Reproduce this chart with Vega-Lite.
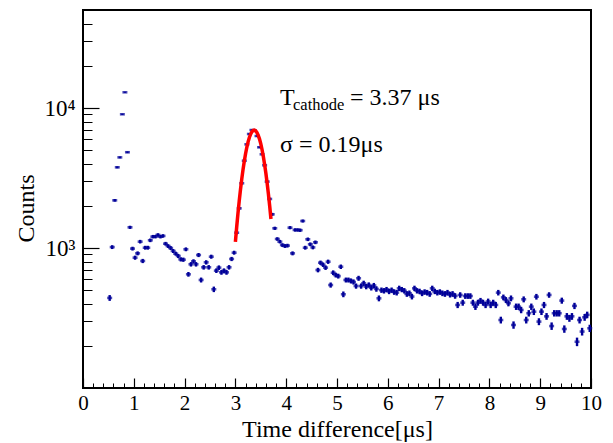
{
"$schema": "https://vega.github.io/schema/vega-lite/v6.json",
"width": 508, "height": 378,
"autosize": "none",
"padding": {"left": 83, "top": 10, "right": 22, "bottom": 55},
"background": "white",
"config": {"view": {"stroke": "black", "strokeWidth": 2}, "font": "Liberation Serif",
 "axis": {"labelFont": "Liberation Serif", "titleFont": "Liberation Serif", "labelColor": "black", "titleColor": "black", "titleFontWeight": "normal", "tickColor": "black", "domain": false, "grid": false}},
"datasets": {
"h": [
{"t":0.525,"c":440,"e":21},{"t":0.575,"c":1015,"e":32},{"t":0.625,"c":2190,"e":47},{"t":0.675,"c":3770,"e":61},{"t":0.725,"c":4440,"e":67},{"t":0.775,"c":9020,"e":95},{"t":0.825,"c":12950,"e":114},{"t":0.875,"c":4830,"e":70},{"t":0.925,"c":1405,"e":37},{"t":0.975,"c":990,"e":31},
{"t":1.025,"c":853,"e":29},{"t":1.075,"c":916,"e":30},{"t":1.125,"c":1110,"e":33},{"t":1.175,"c":808,"e":28},{"t":1.225,"c":1005,"e":32},{"t":1.275,"c":1005,"e":32},{"t":1.325,"c":1135,"e":34},{"t":1.375,"c":1205,"e":35},{"t":1.425,"c":1205,"e":35},{"t":1.475,"c":1240,"e":35},
{"t":1.525,"c":1205,"e":35},{"t":1.575,"c":1220,"e":35},{"t":1.625,"c":1073,"e":33},{"t":1.675,"c":1033,"e":32},{"t":1.725,"c":1000,"e":32},{"t":1.775,"c":952,"e":31},{"t":1.825,"c":911,"e":30},{"t":1.875,"c":877,"e":30},{"t":1.925,"c":830,"e":29},{"t":1.975,"c":825,"e":29},
{"t":2.025,"c":979,"e":31},{"t":2.075,"c":649,"e":25},{"t":2.125,"c":765,"e":28},{"t":2.175,"c":803,"e":28},{"t":2.225,"c":765,"e":28},{"t":2.275,"c":891,"e":30},{"t":2.325,"c":591,"e":24},{"t":2.375,"c":728,"e":27},{"t":2.425,"c":790,"e":28},{"t":2.475,"c":728,"e":27},
{"t":2.525,"c":867,"e":29},{"t":2.575,"c":507,"e":23},{"t":2.625,"c":689,"e":26},{"t":2.675,"c":724,"e":27},{"t":2.725,"c":670,"e":26},{"t":2.775,"c":689,"e":26},{"t":2.825,"c":670,"e":26},{"t":2.875,"c":728,"e":27},{"t":2.925,"c":835,"e":29},{"t":2.975,"c":926,"e":30},
{"t":3.025,"c":1286,"e":36},{"t":3.075,"c":1920,"e":44},{"t":3.125,"c":2900,"e":54},{"t":3.175,"c":4200,"e":65},{"t":3.225,"c":5500,"e":74},{"t":3.275,"c":6520,"e":81},{"t":3.325,"c":6960,"e":83},{"t":3.375,"c":6900,"e":83},{"t":3.425,"c":6310,"e":79},{"t":3.475,"c":5240,"e":72},
{"t":3.525,"c":4670,"e":68},{"t":3.575,"c":3900,"e":62},{"t":3.625,"c":2980,"e":55},{"t":3.675,"c":2240,"e":47},{"t":3.725,"c":1740,"e":42},{"t":3.775,"c":1383,"e":37},{"t":3.825,"c":1160,"e":34},{"t":3.875,"c":1110,"e":33},{"t":3.925,"c":1050,"e":32},{"t":3.975,"c":1033,"e":32},
{"t":4.025,"c":1040,"e":32},{"t":4.075,"c":1397,"e":37},{"t":4.125,"c":916,"e":30},{"t":4.175,"c":1346,"e":37},{"t":4.225,"c":1346,"e":37},{"t":4.275,"c":1340,"e":37},{"t":4.325,"c":1559,"e":39},{"t":4.375,"c":1005,"e":32},{"t":4.425,"c":1154,"e":34},{"t":4.475,"c":1063,"e":33},
{"t":4.525,"c":1010,"e":32},{"t":4.575,"c":1098,"e":33},{"t":4.625,"c":696,"e":26},{"t":4.675,"c":785,"e":28},{"t":4.725,"c":760,"e":28},{"t":4.775,"c":724,"e":27},{"t":4.825,"c":798,"e":28},{"t":4.875,"c":544,"e":23},{"t":4.925,"c":666,"e":26},{"t":4.975,"c":641,"e":25},
{"t":5.025,"c":630,"e":25},{"t":5.075,"c":735,"e":27},{"t":5.125,"c":467,"e":22},{"t":5.175,"c":591,"e":24},{"t":5.225,"c":591,"e":24},{"t":5.275,"c":582,"e":24},{"t":5.325,"c":572,"e":24},{"t":5.375,"c":535,"e":23},{"t":5.425,"c":608,"e":25},{"t":5.475,"c":535,"e":23},
{"t":5.525,"c":560,"e":24},{"t":5.575,"c":530,"e":23},{"t":5.625,"c":545,"e":23},{"t":5.675,"c":520,"e":23},{"t":5.725,"c":540,"e":23},{"t":5.775,"c":510,"e":23},{"t":5.825,"c":437,"e":21},{"t":5.875,"c":500,"e":22},{"t":5.925,"c":495,"e":22},{"t":5.975,"c":505,"e":22},
{"t":6.025,"c":490,"e":22},{"t":6.075,"c":500,"e":22},{"t":6.125,"c":485,"e":22},{"t":6.175,"c":480,"e":22},{"t":6.225,"c":515,"e":23},{"t":6.275,"c":505,"e":22},{"t":6.325,"c":495,"e":22},{"t":6.375,"c":470,"e":22},{"t":6.425,"c":475,"e":22},{"t":6.475,"c":450,"e":21},
{"t":6.525,"c":515,"e":23},{"t":6.575,"c":495,"e":22},{"t":6.625,"c":490,"e":22},{"t":6.675,"c":475,"e":22},{"t":6.725,"c":485,"e":22},{"t":6.775,"c":480,"e":22},{"t":6.825,"c":470,"e":22},{"t":6.875,"c":515,"e":23},{"t":6.925,"c":490,"e":22},{"t":6.975,"c":480,"e":22},
{"t":7.025,"c":485,"e":22},{"t":7.075,"c":475,"e":22},{"t":7.125,"c":470,"e":22},{"t":7.175,"c":480,"e":22},{"t":7.225,"c":465,"e":22},{"t":7.275,"c":470,"e":22},{"t":7.325,"c":455,"e":21},{"t":7.375,"c":392,"e":20},{"t":7.425,"c":462,"e":21},{"t":7.475,"c":407,"e":20},
{"t":7.525,"c":454,"e":21},{"t":7.575,"c":454,"e":21},{"t":7.625,"c":454,"e":21},{"t":7.675,"c":407,"e":20},{"t":7.725,"c":381,"e":20},{"t":7.775,"c":407,"e":20},{"t":7.825,"c":420,"e":20},{"t":7.875,"c":407,"e":20},{"t":7.925,"c":392,"e":20},{"t":7.975,"c":415,"e":20},
{"t":8.025,"c":392,"e":20},{"t":8.075,"c":407,"e":20},{"t":8.125,"c":392,"e":20},{"t":8.175,"c":480,"e":22},{"t":8.225,"c":306,"e":17},{"t":8.275,"c":444,"e":21},{"t":8.325,"c":425,"e":21},{"t":8.375,"c":403,"e":20},{"t":8.425,"c":437,"e":21},{"t":8.475,"c":282,"e":17},
{"t":8.525,"c":381,"e":20},{"t":8.575,"c":381,"e":20},{"t":8.625,"c":361,"e":19},{"t":8.675,"c":430,"e":21},{"t":8.725,"c":306,"e":17},{"t":8.775,"c":342,"e":18},{"t":8.825,"c":381,"e":20},{"t":8.875,"c":351,"e":19},{"t":8.925,"c":449,"e":21},{"t":8.975,"c":298,"e":17},
{"t":9.025,"c":351,"e":19},{"t":9.075,"c":392,"e":20},{"t":9.125,"c":325,"e":18},{"t":9.175,"c":462,"e":21},{"t":9.225,"c":277,"e":17},{"t":9.275,"c":342,"e":18},{"t":9.325,"c":342,"e":18},{"t":9.375,"c":342,"e":18},{"t":9.425,"c":421,"e":21},{"t":9.475,"c":264,"e":16},
{"t":9.525,"c":325,"e":18},{"t":9.575,"c":315,"e":18},{"t":9.625,"c":325,"e":18},{"t":9.675,"c":386,"e":20},{"t":9.725,"c":214,"e":15},{"t":9.775,"c":306,"e":17},{"t":9.825,"c":253,"e":16},{"t":9.875,"c":320,"e":18},{"t":9.925,"c":333,"e":18},{"t":9.975,"c":267,"e":16}
],
"fit": [
{"t":3.0,"f":1106},{"t":3.025,"f":1407},{"t":3.05,"f":1758},{"t":3.075,"f":2162},{"t":3.1,"f":2613},{"t":3.125,"f":3105},{"t":3.15,"f":3629},{"t":3.175,"f":4172},{"t":3.2,"f":4716},{"t":3.225,"f":5241},
{"t":3.25,"f":5728},{"t":3.275,"f":6157},{"t":3.3,"f":6507},{"t":3.325,"f":6764},{"t":3.35,"f":6913},{"t":3.375,"f":6948},{"t":3.4,"f":6867},{"t":3.425,"f":6673},{"t":3.45,"f":6378},{"t":3.475,"f":5994},
{"t":3.5,"f":5540},{"t":3.525,"f":5034},{"t":3.55,"f":4499},{"t":3.575,"f":3954},{"t":3.6,"f":3417},{"t":3.625,"f":2904},{"t":3.65,"f":2426},{"t":3.675,"f":1994},{"t":3.7,"f":1611}
]
},
"data": {"name": "h"},
"layer": [
{"mark": {"type": "errorbar", "thickness": 2.4, "color": "#000099"},
 "encoding": {
  "x": {"field": "t", "type": "quantitative", "scale": {"domain": [0, 10], "nice": false, "zero": false},
   "axis": {"orient": "bottom", "values": [0,1,2,3,4,5,6,7,8,9,10], "tickSize": -10, "tickWidth": 1.2, "labelPadding": 14, "labelFontSize": 21, "labelFlush": false, "title": "Time difference[μs]", "titleFontSize": 24, "titleY": 48, "titleBaseline": "alphabetic"}},
  "y": {"field": "c", "type": "quantitative", "scale": {"type": "log", "domain": [100, 50119], "nice": false, "zero": false},
   "axis": {"orient": "left", "values": [1000, 10000], "labelExpr": "datum.value == 1000 ? '10³' : '10⁴'", "tickSize": -16, "tickWidth": 1.2, "labelPadding": 24, "labelFontSize": 23, "title": "Counts", "titleFontSize": 24, "titleX": -57, "titleY": 198, "titleBaseline": "middle"}},
  "yError": {"field": "e"}
 }},
{"mark": {"type": "tick", "orient": "horizontal", "size": 5, "thickness": 2.6, "color": "#000099"},
 "encoding": {
  "x": {"field": "t", "type": "quantitative", "scale": {"domain": [0, 10], "nice": false, "zero": false},
   "axis": {"orient": "bottom", "values": [0.2,0.4,0.6,0.8,1.2,1.4,1.6,1.8,2.2,2.4,2.6,2.8,3.2,3.4,3.6,3.8,4.2,4.4,4.6,4.8,5.2,5.4,5.6,5.8,6.2,6.4,6.6,6.8,7.2,7.4,7.6,7.8,8.2,8.4,8.6,8.8,9.2,9.4,9.6,9.8], "tickSize": -5, "tickWidth": 1, "labels": false, "title": null}},
  "y": {"field": "c", "type": "quantitative", "scale": {"type": "log", "domain": [100, 50119], "nice": false, "zero": false},
   "axis": {"orient": "left", "values": [200,300,400,500,600,700,800,900,2000,3000,4000,5000,6000,7000,8000,9000,20000,30000,40000], "tickSize": -9, "tickWidth": 1, "labels": false, "title": null}}
 }},
{"data": {"name": "fit"}, "mark": {"type": "line", "color": "#ff0000", "strokeWidth": 3.5},
 "encoding": {"x": {"field": "t", "type": "quantitative", "axis": null}, "y": {"field": "f", "type": "quantitative", "axis": null}}},
{"data": {"values": [{"s": "T"}]}, "mark": {"type": "text", "align": "left", "baseline": "alphabetic", "fontSize": 24, "font": "Liberation Serif", "color": "black"},
 "encoding": {"x": {"datum": 3.88, "type": "quantitative", "axis": null}, "y": {"datum": 10500, "type": "quantitative", "axis": null}, "text": {"field": "s"}}},
{"data": {"values": [{"s": "cathode"}]}, "mark": {"type": "text", "align": "left", "baseline": "alphabetic", "fontSize": 16.5, "font": "Liberation Serif", "color": "black"},
 "encoding": {"x": {"datum": 4.134, "type": "quantitative", "axis": null}, "y": {"datum": 9680, "type": "quantitative", "axis": null}, "text": {"field": "s"}}},
{"data": {"values": [{"s": "= 3.37 μs"}]}, "mark": {"type": "text", "align": "left", "baseline": "alphabetic", "fontSize": 24, "font": "Liberation Serif", "color": "black"},
 "encoding": {"x": {"datum": 5.256, "type": "quantitative", "axis": null}, "y": {"datum": 10500, "type": "quantitative", "axis": null}, "text": {"field": "s"}}},
{"data": {"values": [{"s": "σ = 0.19μs"}]}, "mark": {"type": "text", "align": "left", "baseline": "alphabetic", "fontSize": 24, "font": "Liberation Serif", "color": "black"},
 "encoding": {"x": {"datum": 3.88, "type": "quantitative", "axis": null}, "y": {"datum": 4850, "type": "quantitative", "axis": null}, "text": {"field": "s"}}}
],
"resolve": {"axis": {"x": "independent", "y": "independent"}}
}
